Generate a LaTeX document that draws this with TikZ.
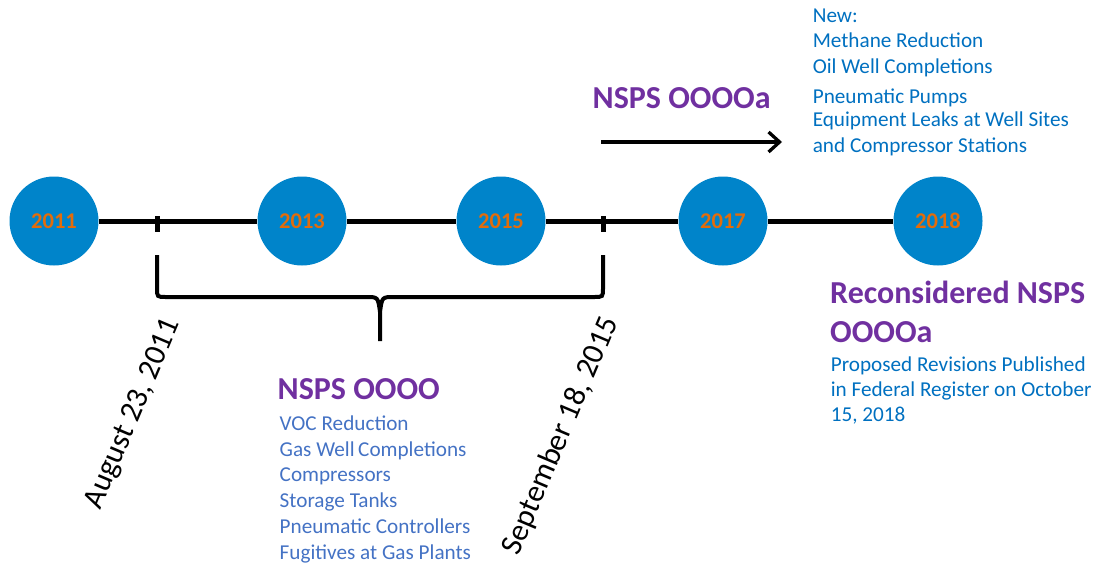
\documentclass[tikz,border=0pt]{standalone}
\usepackage{fontspec}
\setmainfont{Carlito}
\usetikzlibrary{arrows.meta}
\definecolor{dotblue}{RGB}{0,132,202}
\definecolor{yearorange}{RGB}{227,108,10}
\definecolor{rulepurple}{RGB}{112,48,160}
\definecolor{noteblue}{RGB}{0,112,192}
\definecolor{listblue}{RGB}{68,114,196}

\begin{document}
\begin{tikzpicture}[x=1pt,y=-1pt,
year/.style={circle,fill=dotblue,minimum size=89pt,inner sep=0pt,
  text=yearorange,font=\fontsize{22.5}{22.5}\selectfont\bfseries},
title/.style={text=rulepurple,inner sep=0pt,align=left,
  font=\fontsize{32}{38.4}\selectfont\bfseries},
note/.style={text=noteblue,inner sep=0pt,align=left,
  font=\fontsize{21.2}{25.6}\selectfont},
date/.style={rotate=67,inner sep=0pt,font=\fontsize{31}{31}\selectfont},
axis/.style={line width=5pt}]
\useasboundingbox (0,0) rectangle (1097,565);
\foreach \yr/\x in {2011/54,2013/302,2015/501,2017/723,2018/938}
  \node[year] (y\yr) at (\x,221) {\yr};
\draw[axis] (y2011) -- (y2013) -- (y2015) -- (y2017) -- (y2018);
\coordinate (t2011) at (157,221);
\coordinate (t2015) at (603,221);
\draw[axis] (t2011) ++(0,-5) -- ++(0,16);
\draw[axis] (t2015) ++(0,-5) -- ++(0,16);
\path[draw,line width=4pt]
(t2011) ++(0,34) -- ++(0,33) .. controls ++(0,9) .. ++(9,9) -- (366,297)
  .. controls (378,297) .. (380,312) -- (380,341)
(t2015) ++(0,34) -- ++(0,33) .. controls ++(0,9) .. ++(-9,9) -- (394,297)
  .. controls (382,297) .. (380,312);
\node[date] (d2011) at (133.5,414) {August 23, 2011};
\node[date] (d2015) at (561,436) {September 18, 2015};
\node[title,anchor=base west] (oooo) at (277.5,399) {NSPS OOOO};
\node[note,text=listblue,anchor=north west,font=\fontsize{21.2}{25.8}\selectfont]
  (ooooList) at (279.5,415.3)
  {VOC Reduction\\Gas Well\,Completions\\Compressors\\Storage Tanks\\
   Pneumatic Controllers\\Fugitives at Gas Plants};
\node[title,anchor=base west] (ooooa) at (592.5,108.3) {NSPS OOOOa};
\coordinate (arrS) at (601,142);
\coordinate (arrE) at (782,142);
\draw[line width=3.3pt,-{Straight Barb[length=11pt,width=20pt]}] (arrS) -- (arrE);
\node[note,anchor=north west] (ooooaNew) at (812.6,8.2)
  {New:\\Methane Reduction\\Oil Well Completions\\[4.4pt]Pneumatic Pumps\\[-2.2pt]
   Equipment Leaks at Well Sites\\and Compressor Stations};
\node[title,anchor=north west] (recon) at (830,281) {Reconsidered NSPS\\OOOOa};
\node[note,anchor=north west,font=\fontsize{21.2}{25}\selectfont]
  (reconNote) at (830.6,357)
  {Proposed Revisions Published\\in Federal Register on October\\15, 2018};
\end{tikzpicture}
\end{document}
